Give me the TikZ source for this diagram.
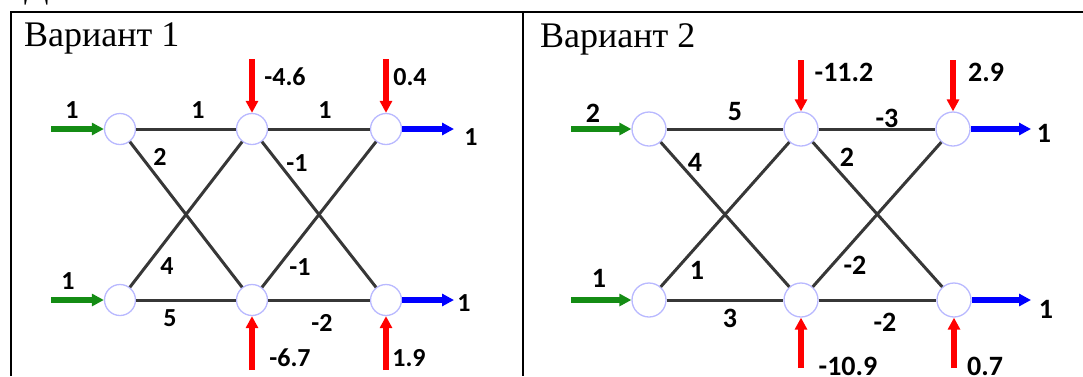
\documentclass[tikz,border=0pt]{standalone}
\usepackage{fontspec}
\setmainfont{Liberation Serif}
\newfontfamily\labfont{Carlito}
\usetikzlibrary{arrows.meta}
\definecolor{ingreen}{RGB}{20,140,20}
\definecolor{outblue}{RGB}{0,0,255}
\definecolor{loadred}{RGB}{255,0,0}
\definecolor{ringblue}{RGB}{185,185,255}
\definecolor{linkgray}{RGB}{55,55,55}
\begin{document}
\begin{tikzpicture}[x=1pt,y=-1pt,
  nd/.style={circle,draw=ringblue,line width=1.3pt,fill=white,inner sep=0pt},
  ndA/.style={nd,minimum size=31pt},
  ndB/.style={nd,minimum size=34pt},
  link/.style={draw=linkgray,line width=3pt},
  tipA/.style={-{Triangle[length=12pt,width=12pt]}},
  garr/.style={draw=ingreen,line width=5.5pt,tipA},
  barr/.style={draw=outblue,line width=5.5pt,tipA},
  rarr/.style={draw=loadred,line width=6pt,tipA},
  lab/.style={inner sep=0pt,font=\labfont\bfseries\fontsize{26}{26}\selectfont},
  labB/.style={inner sep=0pt,font=\labfont\bfseries\fontsize{28}{28}\selectfont},
  head/.style={inner sep=0pt,anchor=base west,font=\fontsize{36}{40}\selectfont},
  frame/.style={line width=2.5pt}]
\useasboundingbox (0,0) rectangle (1083,376);

% table frame
\draw[frame] (11,376) -- (11,12) -- (1083,12);
\draw[frame] (523,12) -- (523,376);
\node[head] (cut) at (24,-3) {Д};
\node[head] (h1) at (24,46) {Вариант 1};
\node[head] (h2) at (540,47) {Вариант 2};

% ---------- Variant 1 ----------
\node[ndA] (a1) at (120,129) {};
\node[ndA] (a2) at (252,129) {};
\node[ndA] (a3) at (386,129) {};
\node[ndA] (a4) at (120,300) {};
\node[ndA] (a5) at (252,300) {};
\node[ndA] (a6) at (386,300) {};
\draw[link] (a1) -- (a2);
\draw[link] (a2) -- (a3);
\draw[link] (a4) -- (a5);
\draw[link] (a5) -- (a6);
\draw[link] (a1) -- (a5);
\draw[link] (a4) -- (a2);
\draw[link] (a2) -- (a6);
\draw[link] (a5) -- (a3);
\coordinate (ga1) at (51,129);
\coordinate (ga4) at (51,300);
\coordinate (ba3) at (454,129);
\coordinate (ba6) at (454,300);
\coordinate (ra2) at (252,59);
\coordinate (ra3) at (386,59);
\coordinate (ra5) at (252,370);
\coordinate (ra6) at (386,370);
\draw[garr] (ga1) -- (a1);
\draw[garr] (ga4) -- (a4);
\draw[barr] (a3) -- (ba3);
\draw[barr] (a6) -- (ba6);
\draw[rarr] (ra2) -- (a2);
\draw[rarr] (ra3) -- (a3);
\draw[rarr] (ra5) -- (a5);
\draw[rarr] (ra6) -- (a6);
\node[lab] (la1) at (72,110) {1};
\node[lab] (la4) at (68,281) {1};
\node[lab] (lb3) at (471,137) {1};
\node[lab] (lb6) at (464,303) {1};
\node[lab] (lr2) at (285,77) {-4.6};
\node[lab] (lr3) at (410,77) {0.4};
\node[lab] (lr5) at (290,358) {-6.7};
\node[lab] (lr6) at (409,358) {1.9};
\node[lab] (e12) at (198,110) {1};
\node[lab] (e23) at (325,110) {1};
\node[lab] (e15) at (160,157) {2};
\node[lab] (e26) at (297,163) {-1};
\node[lab] (e42) at (167,266) {4};
\node[lab] (e53) at (300,267) {-1};
\node[lab] (e45) at (170,318) {5};
\node[lab] (e56) at (322,323) {-2};

% ---------- Variant 2 ----------
\node[ndB] (b1) at (649,129) {};
\node[ndB] (b2) at (801,129) {};
\node[ndB] (b3) at (953,129) {};
\node[ndB] (b4) at (649,300) {};
\node[ndB] (b5) at (801,300) {};
\node[ndB] (b6) at (954,300) {};
\draw[link] (b1) -- (b2);
\draw[link] (b2) -- (b3);
\draw[link] (b4) -- (b5);
\draw[link] (b5) -- (b6);
\draw[link] (b1) -- (b5);
\draw[link] (b4) -- (b2);
\draw[link] (b2) -- (b6);
\draw[link] (b5) -- (b3);
\coordinate (gb1) at (571,129);
\coordinate (gb4) at (571,300);
\coordinate (bb3) at (1031,129);
\coordinate (bb6) at (1031,300);
\coordinate (rb2) at (801,60);
\coordinate (rb3) at (953,60);
\coordinate (rb5) at (801,368);
\coordinate (rb6) at (954,368);
\draw[garr] (gb1) -- (b1);
\draw[garr] (gb4) -- (b4);
\draw[barr] (b3) -- (bb3);
\draw[barr] (b6) -- (bb6);
\draw[rarr] (rb2) -- (b2);
\draw[rarr] (rb3) -- (b3);
\draw[rarr] (rb5) -- (b5);
\draw[rarr] (rb6) -- (b6);
\node[labB] (mb1) at (593,113) {2};
\node[labB] (mb4) at (599,278) {1};
\node[labB] (nb3) at (1044,133) {1};
\node[labB] (nb6) at (1046,309) {1};
\node[labB] (sr2) at (844,72) {-11.2};
\node[labB] (sr3) at (986,72) {2.9};
\node[labB] (sr5) at (848,366) {-10.9};
\node[labB] (sr6) at (985,366) {0.7};
\node[labB] (f12) at (735,112) {5};
\node[labB] (f23) at (887,118) {-3};
\node[labB] (f15) at (695,162) {4};
\node[labB] (f26) at (847,157) {2};
\node[labB] (f42) at (697,270) {1};
\node[labB] (f53) at (855,265) {-2};
\node[labB] (f45) at (730,318) {3};
\node[labB] (f56) at (885,322) {-2};
\end{tikzpicture}
\end{document}
